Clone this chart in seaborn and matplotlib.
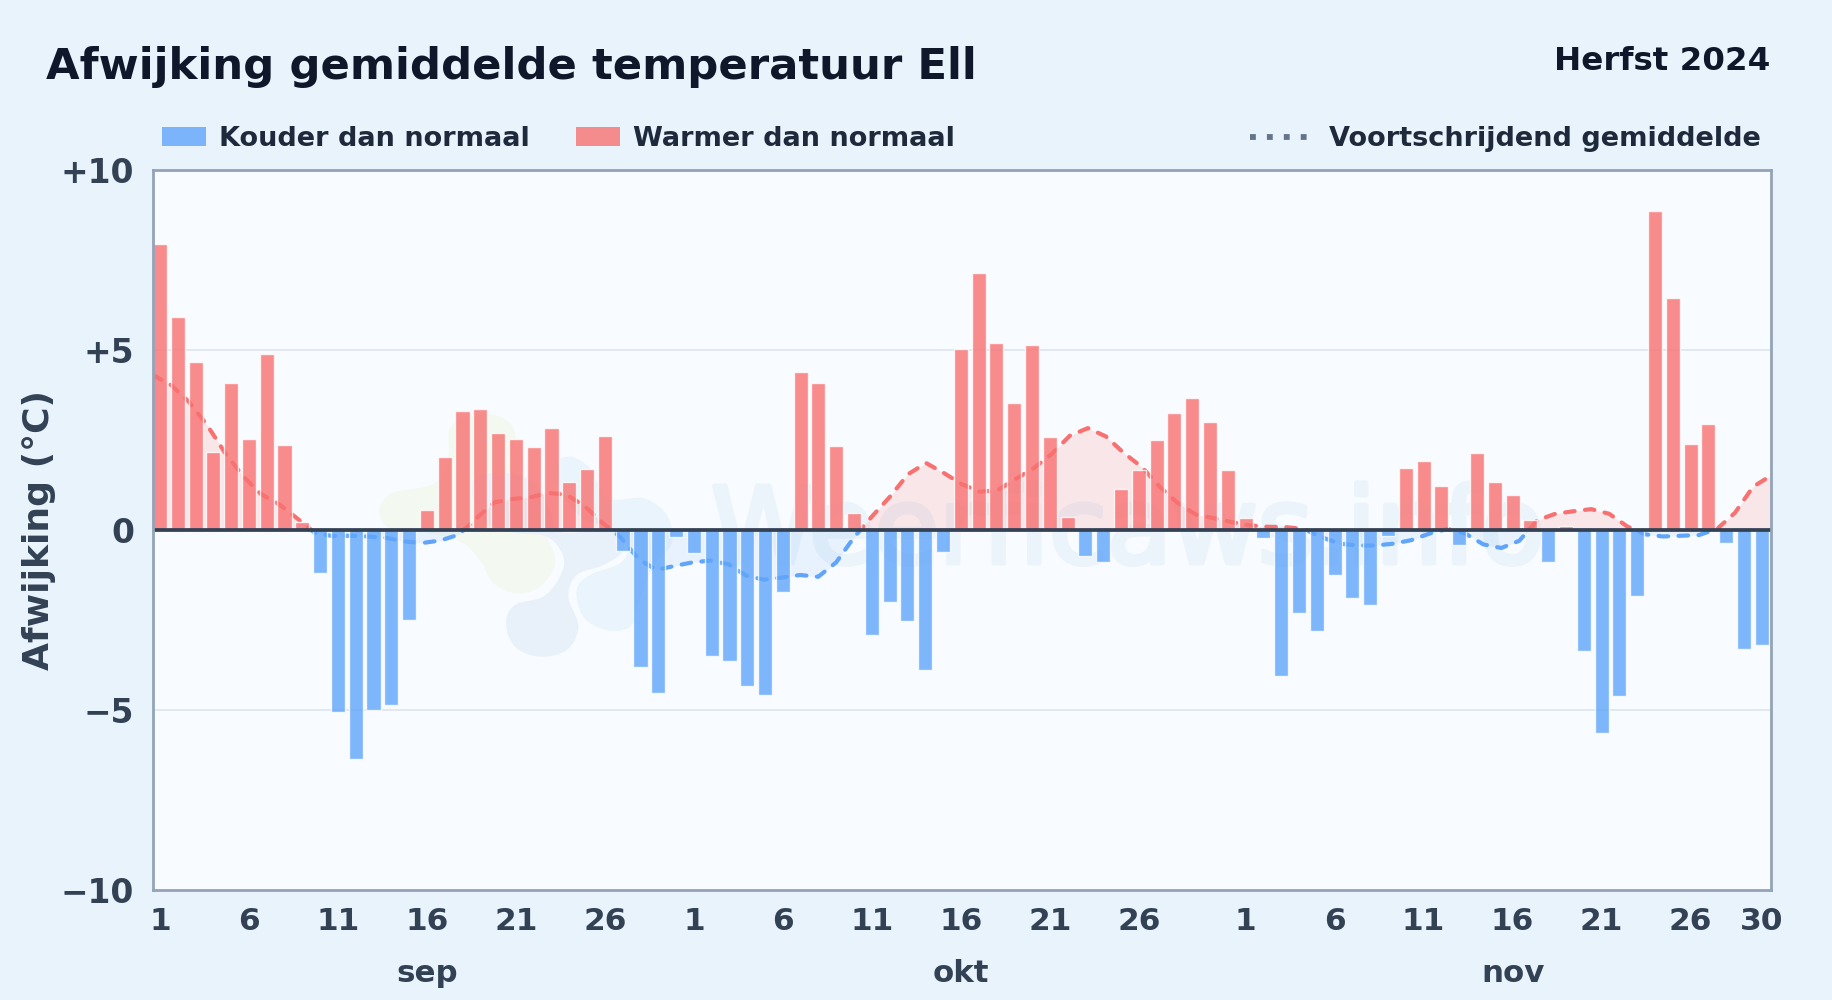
import numpy as np
import pandas as pd
import matplotlib
matplotlib.use("Agg")
import matplotlib.pyplot as plt
import matplotlib.patheffects as pe
from matplotlib.lines import Line2D
from matplotlib.patches import Patch, Rectangle
from matplotlib.transforms import IdentityTransform, blended_transform_factory
import seaborn as sns

title = "Afwijking gemiddelde temperatuur Ell"
season = "Herfst 2024"
ylabel = "Afwijking (°C)"
months = ["sep", "okt", "nov"]
month_lengths = [30, 31, 30]
legend_cold = "Kouder dan normaal"
legend_warm = "Warmer dan normaal"
legend_avg = "Voortschrijdend gemiddelde"
watermark = "Weerficaws.info"
y_ticks = [10, 5, 0, -5, -10]
y_ticklabels = ["+10", "+5", "0", "\u22125", "\u221210"]

sep_values = [7.94, 5.93, 4.67, 2.17, 4.08, 2.53, 4.89, 2.37, 0.22, -1.2,
              -5.06, -6.35, -5.0, -4.86, -2.5, 0.55, 2.04, 3.3, 3.37, 2.69,
              2.53, 2.3, 2.82, 1.33, 1.69, 2.6, -0.58, -3.8, -4.54, -0.2]
okt_values = [-0.65, -3.5, -3.63, -4.34, -4.57, -1.72, 4.4, 4.08, 2.33, 0.48,
              -2.92, -2.0, -2.53, -3.89, -0.62, 5.02, 7.13, 5.19, 3.53, 5.15,
              2.59, 0.35, -0.71, -0.88, 1.13, 1.68, 2.5, 3.24, 3.66, 3.0, 1.68]
nov_values = [0.32, -0.23, -4.05, -2.3, -2.8, -1.24, -1.9, -2.07, -0.17, 1.72,
              1.92, 1.22, -0.42, 2.13, 1.33, 0.97, 0.29, -0.88, 0.1, -3.37,
              -5.64, -4.6, -1.82, 8.85, 6.45, 2.4, 2.95, -0.35, -3.3, -3.2]
rolling_avg = [4.3, 4.03, 3.56, 2.92, 2.15, 1.5, 1.0, 0.72, 0.33, -0.08,
               -0.17, -0.16, -0.18, -0.22, -0.32, -0.36, -0.29, -0.13, 0.33, 0.77,
               0.86, 0.91, 1.03, 0.98, 0.67, 0.2, -0.2, -0.8, -1.11, -1.0,
               -0.9, -0.85, -0.95, -1.27, -1.38, -1.32, -1.25, -1.3, -0.9, -0.2,
               0.38, 0.93, 1.55, 1.86, 1.58, 1.27, 1.06, 1.11, 1.42, 1.72,
               2.12, 2.62, 2.83, 2.6, 2.14, 1.75, 1.2, 0.75, 0.43, 0.33,
               0.22, 0.13, 0.09, 0.08, 0.03, -0.2, -0.38, -0.43, -0.43, -0.38,
               -0.28, -0.1, 0.03, -0.1, -0.4, -0.5, -0.3, 0.27, 0.45, 0.52,
               0.58, 0.45, 0.1, -0.12, -0.18, -0.16, -0.14, 0.03, 0.48, 1.2, 1.51]

RED, BLUE = "#f87171", "#60a5fa"
sns.set_theme(style="white")
plt.rcParams["font.family"] = ["DejaVu Sans"]
plt.rcParams["font.weight"] = "bold"

W, H = 1832, 1000
fig = plt.figure(figsize=(W / 100, H / 100), dpi=100, facecolor="#e9f3fc")
ax = fig.add_axes([153 / W, 1 - 890 / H, (1771 - 153) / W, (890 - 170) / H], facecolor="#f8fbff")

values = np.array(sep_values + okt_values + nov_values)
idx = np.arange(len(values))
df = pd.DataFrame({"dag": idx, "afw": values,
                   "soort": np.where(values >= 0, "warm", "koud")})


def blob(points, color):
    p = np.array(points, float)
    n = len(p)
    out = []
    for i in range(n):
        p0, p1, p2, p3 = p[i - 1], p[i], p[(i + 1) % n], p[(i + 2) % n]
        for t in np.linspace(0, 1, 12, endpoint=False):
            out.append(0.5 * (2 * p1 + (p2 - p0) * t + (2 * p0 - 5 * p1 + 4 * p2 - p3) * t ** 2
                              + (3 * p1 - p0 - 3 * p2 + p3) * t ** 3))
    out = np.array(out)
    ax.fill(360 + out[:, 0] / 3, H - (400 + out[:, 1] / 3), color=color, lw=0,
            transform=IdentityTransform(), zorder=0.5)


green = [(58, 335), (95, 280), (225, 250), (265, 170), (270, 85), (330, 45), (420, 50), (465, 100),
         (455, 200), (500, 290), (560, 410), (585, 490), (540, 560), (470, 580), (400, 550),
         (360, 480), (300, 425), (180, 395), (90, 385)]
light = [(575, 210), (625, 170), (690, 205), (745, 295), (850, 295), (920, 345), (935, 430),
         (880, 500), (840, 600), (810, 680), (740, 690), (670, 650), (650, 570), (690, 525),
         (780, 490), (805, 440), (770, 395), (650, 340)]
grey = [(340, 240), (430, 220), (520, 245), (570, 330), (600, 395), (760, 395), (790, 450),
        (730, 495), (650, 525), (625, 590), (655, 680), (620, 750), (540, 770), (465, 740),
        (438, 670), (465, 615), (550, 590), (600, 530), (610, 470), (560, 410), (450, 395), (360, 350)]
blob(green, "#f3f8f0")
blob(light, "#e9f4fd")
blob(grey, "#e8f0f9")

ax.text(711, H - 563, watermark, transform=IdentityTransform(), fontsize=76, fontweight="normal",
        color="#ebf3fb", ha="left", va="baseline", zorder=0.6, clip_on=True,
        path_effects=[pe.withStroke(linewidth=3.5, foreground="#ebf3fb")])

sns.barplot(data=df, x="dag", y="afw", hue="soort", palette={"warm": RED, "koud": BLUE},
            dodge=False, width=0.79, saturation=1, alpha=0.8, legend=False, ax=ax, zorder=4)

xlim = (-0.39, 90.52)
line_x = xlim[0] + np.arange(len(rolling_avg)) * (xlim[1] - xlim[0]) / (len(rolling_avg) - 1)
line_y = np.array(rolling_avg)
fine_x = np.linspace(line_x[0], line_x[-1], 1801)
fine_y = np.interp(fine_x, line_x, line_y)
ax.fill_between(fine_x, 0, np.clip(fine_y, 0, None), color=RED, alpha=0.15, lw=0, zorder=2)
ax.fill_between(fine_x, 0, np.clip(fine_y, None, 0), color=BLUE, alpha=0.10, lw=0, zorder=2)

for color, y0, h in [(RED, 0, 20), (BLUE, -20, 20)]:
    n0 = len(ax.lines)
    sns.lineplot(x=line_x, y=line_y, color=color, lw=3.0, ax=ax, zorder=3, estimator=None, sort=False)
    ln = ax.lines[n0]
    ln.set_dashes((2.3, 2.5))
    ln.set_dash_capstyle("round")
    ln.set_dash_joinstyle("round")
    ln.set_clip_path(Rectangle((xlim[0], y0), xlim[1] - xlim[0], h, transform=ax.transData))

ax.axhline(0, color="#334155", lw=2.7, zorder=6)
ax.set_xlim(*xlim)
ax.set_ylim(-10, 10)
ax.set_yticks(y_ticks, y_ticklabels)
ax.grid(False)
for v in (5, -5):
    ax.axhline(v, color="#e2e8f0", lw=1.4, zorder=1)

tick_pos, tick_lab = [], []
start = 0
for m in month_lengths:
    for d in range(1, 27, 5):
        tick_pos.append(start + d - 1)
        tick_lab.append(str(d))
    start += m
tick_pos.append(len(values) - 1)
tick_lab.append(str(month_lengths[-1]))
ax.set_xticks(tick_pos, tick_lab)
ax.tick_params(axis="x", length=0, pad=12.5, labelsize=22.5, labelcolor="#334155")
ax.tick_params(axis="y", length=0, pad=13.5, labelsize=23.7, labelcolor="#334155")
ax.set_xlabel("")
ax.set_ylabel("")
for s in ax.spines.values():
    s.set_visible(True)
    s.set_color("#94a3b8")
    s.set_linewidth(2.0)
    s.set_zorder(7)

tr = blended_transform_factory(ax.transData, fig.transFigure)
start = 0
for name, m in zip(months, month_lengths):
    ax.text(start + 15, 1 - 974 / H, name, transform=tr, ha="center", va="center",
            fontsize=22.2, color="#334155", clip_on=False)
    start += m

fig.text(39 / W, 1 - 530 / H, ylabel, rotation=90, ha="center", va="center", fontsize=26, color="#334155")
fig.text(46 / W, 1 - 79 / H, title, ha="left", va="baseline", fontsize=31.25, color="#0f172a")
fig.text(1770 / W, 1 - 70 / H, season, ha="right", va="baseline", fontsize=23.4, color="#0f172a")

h1 = [Patch(facecolor=BLUE, alpha=0.8, lw=0, label=legend_cold),
      Patch(facecolor=RED, alpha=0.8, lw=0, label=legend_warm)]
leg1 = fig.legend(handles=h1, ncol=2, loc="center left", bbox_to_anchor=(162 / W, 1 - 139 / H),
                  frameon=False, fontsize=19.5, borderpad=0, borderaxespad=0, handlelength=1.63,
                  handleheight=0.7, handletextpad=0.48, columnspacing=1.7, labelcolor="#1e293b")
h2 = [Line2D([0], [0], color="#64748b", lw=4.2, linestyle=(0, (1, 1.9)), dash_capstyle="butt", label=legend_avg)]
leg2 = fig.legend(handles=h2, loc="center right", bbox_to_anchor=(1761 / W, 1 - 139 / H),
                  frameon=False, fontsize=19.5, borderpad=0, borderaxespad=0, handlelength=2.12,
                  handletextpad=0.8, labelcolor="#1e293b")

fig.savefig("out.png", dpi=100, facecolor=fig.get_facecolor())
